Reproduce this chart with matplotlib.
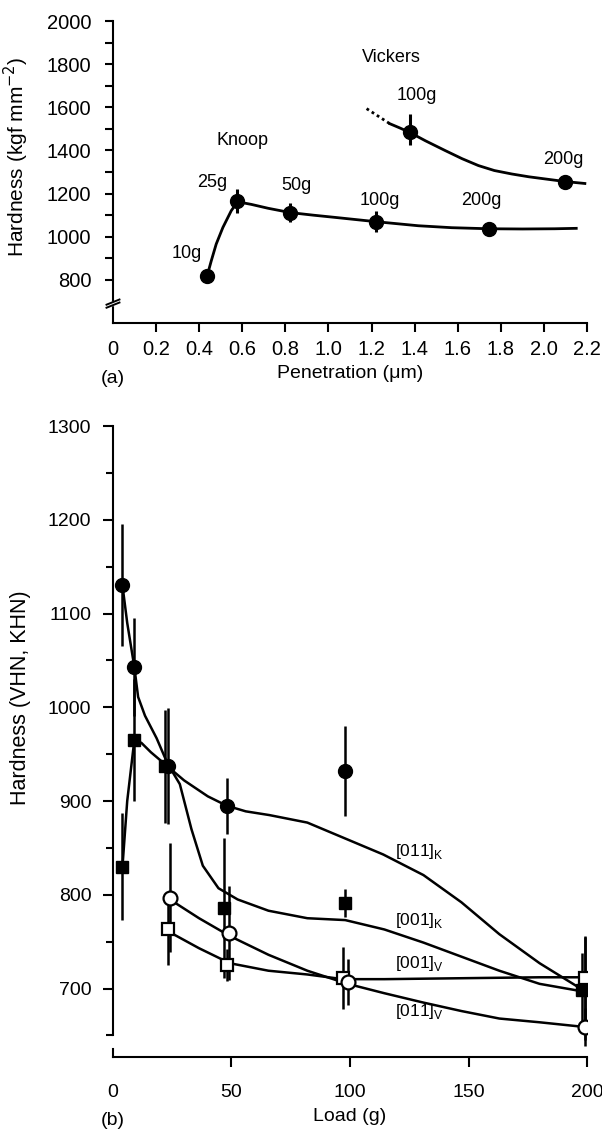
import matplotlib.pyplot as plt
import numpy as np

plt.rcParams['font.family'] = ['Liberation Sans', 'DejaVu Sans']

# ---------------- (a) Penetration data ----------------
knoop_x = [0.437, 0.577, 0.823, 1.219, 1.745]
knoop_y = [819, 1167, 1112, 1070, 1037]
knoop_err = [0, 55, 45, 50, 0]
knoop_loads = ['10g', '25g', '50g', '100g', '200g']

vick_x = [1.377, 2.098]
vick_y = [1484, 1256]
vick_err_lo = [60, 0]
vick_err_hi = [85, 0]
vick_loads = ['100g', '200g']

# fitted curves
knoop_fit_x = [0.437, 0.456, 0.479, 0.510, 0.549, 0.577, 0.60, 0.642, 0.72, 0.823,
               0.93, 1.028, 1.219, 1.417, 1.572, 1.745, 1.90, 2.05, 2.15]
knoop_fit_y = [819, 888, 966, 1043, 1121, 1160, 1158, 1150, 1132, 1112,
               1100, 1090, 1070, 1051, 1042, 1037, 1036, 1037, 1039]
vick_fit_x = [1.285, 1.33, 1.377, 1.45, 1.541, 1.62, 1.696, 1.77, 1.851, 1.93, 2.006, 2.098, 2.19]
vick_fit_y = [1524, 1505, 1484, 1445, 1400, 1362, 1330, 1307, 1291, 1278, 1268, 1256, 1247]
vick_dash_x = [1.177, 1.285]
vick_dash_y = [1594, 1524]

# ---------------- (b) Load data ----------------
k011_x = [4, 9, 23, 48, 98, 199]
k011_y = [1130, 1043, 937, 895, 932, 700]
k011_err = [65, 52, 62, 30, 48, 55]

k001_x = [4, 9, 22, 47, 98, 198]
k001_y = [830, 965, 937, 786, 791, 698]
k001_err = [57, 65, 60, 75, 15, 40]

v001_x = [23, 48, 97, 199]
v001_y = [763, 725, 711, 711]
v001_err = [38, 17, 33, 45]

v011_x = [24, 49, 99, 199]
v011_y = [797, 759, 707, 659]
v011_err = [58, 50, 25, 20]

# curves (labels as in figure)
cK011_x = [4, 6, 9, 12, 16, 23, 30, 40, 48, 56, 66, 82, 98, 114, 131, 147, 163, 180, 196, 200]
cK011_y = [830, 900, 965, 962, 952, 937, 922, 905, 895, 889, 885, 877, 860, 843, 821, 792, 758, 727, 702, 697]
cK001_x = [4, 6, 9, 10.6, 13.5, 18.4, 23, 28.2, 33.1, 37.9, 44.5, 52.6, 65.6, 82, 98, 114.5, 131, 147, 163, 180, 198]
cK001_y = [1130, 1090, 1043, 1011, 991, 967, 940, 918, 870, 831, 807, 795, 783, 775, 773, 763, 749, 734, 719, 705, 697]
cV001_x = [24, 36.3, 49.3, 65.6, 82, 97, 114.5, 147, 180, 199]
cV001_y = [760, 743, 727, 719, 715, 710, 710, 711, 712, 712]
cV011_x = [24, 36.3, 49.3, 65.6, 82, 99, 114.5, 131, 147, 163, 180, 199]
cV011_y = [795, 775, 756, 736, 719, 705, 695, 685, 676, 668, 664, 659]

fig = plt.figure(figsize=(6.02, 11.33), dpi=100)

# ======================= panel (a) =======================
ax1 = fig.add_axes([0.1877, 0.7149, 0.7874, 0.2665])
ax1.plot(knoop_fit_x, knoop_fit_y, color='black', lw=2.0, zorder=2)
ax1.plot(vick_fit_x, vick_fit_y, color='black', lw=2.0, zorder=2)
ax1.plot(vick_dash_x, vick_dash_y, color='black', lw=2.0, ls=(0, (1, 1.2)), zorder=2)
ax1.errorbar(knoop_x, knoop_y, yerr=knoop_err, fmt='o', color='black', ms=10,
             elinewidth=2.2, capsize=0, zorder=3)
ax1.errorbar(vick_x, vick_y, yerr=[vick_err_lo, vick_err_hi], fmt='o', color='black', ms=10,
             elinewidth=2.2, capsize=0, zorder=3)

knoop_lab_pos = [(0.34, 921), (0.46, 1251), (0.85, 1237), (1.24, 1167), (1.71, 1167)]
for lab, (tx, ty) in zip(knoop_loads, knoop_lab_pos):
    ax1.text(tx, ty, lab, ha='center', va='center', fontsize=13)
ax1.text(1.41, 1656, vick_loads[0], ha='center', va='center', fontsize=13)
ax1.text(2.09, 1358, vick_loads[1], ha='center', va='center', fontsize=13)
ax1.text(0.60, 1447, 'Knoop', ha='center', va='center', fontsize=13)
ax1.text(1.29, 1830, 'Vickers', ha='center', va='center', fontsize=13)

ax1.set_xlim(0, 2.2)
ax1.set_ylim(600, 2000)
ax1.set_xticks(np.arange(0, 2.21, 0.2))
ax1.set_xticklabels(['0', '0.2', '0.4', '0.6', '0.8', '1.0', '1.2', '1.4', '1.6', '1.8', '2.0', '2.2'])
ax1.set_yticks(np.arange(800, 2001, 200))
ax1.set_yticks(np.arange(800, 2001, 100), minor=True)
ax1.xaxis.get_major_ticks()[0].tick1line.set_visible(False)
ax1.tick_params(axis='both', which='both', direction='out', length=5.5, width=1.5,
                labelsize=14.5)
ax1.tick_params(axis='x', length=6.5, pad=6)
ax1.tick_params(axis='y', which='major', pad=10)
for s in ['top', 'right']:
    ax1.spines[s].set_visible(False)
for s in ['left', 'bottom']:
    ax1.spines[s].set_linewidth(1.5)
ax1.set_ylabel('Hardness (kgf mm$^{-2}$)', fontsize=15)
ax1.yaxis.set_label_coords(-0.172, 0.55)
ax1.set_xlabel('Penetration (\u03bcm)', fontsize=14, labelpad=4)
ax1.text(0.0, -0.185, '(a)', transform=ax1.transAxes, ha='center', va='center', fontsize=14)
# axis break marks
for yb in (683, 697):
    ax1.plot([-0.03, 0.03], [yb - 12, yb + 12], color='black', lw=1.4, clip_on=False, zorder=5)
ax1.plot([0, 0], [686, 694], color='white', lw=2.5, clip_on=False, zorder=4)

# ======================= panel (b) =======================
ax2 = fig.add_axes([0.1877, 0.0671, 0.7874, 0.5569])
for cx, cy in [(cK011_x, cK011_y), (cK001_x, cK001_y), (cV001_x, cV001_y), (cV011_x, cV011_y)]:
    ax2.plot(cx, cy, color='black', lw=1.8, zorder=2)

ax2.errorbar(k011_x, k011_y, yerr=k011_err, fmt='o', color='black', ms=10,
             elinewidth=1.8, capsize=0, zorder=3)
ax2.errorbar(k001_x, k001_y, yerr=k001_err, fmt='s', color='black', ms=9,
             elinewidth=1.8, capsize=0, zorder=3)
ax2.errorbar(v001_x, v001_y, yerr=v001_err, fmt='s', mfc='white', mec='black', mew=1.6,
             color='black', ms=9, elinewidth=1.8, capsize=0, zorder=4)
ax2.errorbar(v011_x, v011_y, yerr=v011_err, fmt='o', mfc='white', mec='black', mew=1.6,
             color='black', ms=10, elinewidth=1.8, capsize=0, zorder=4)

lab_x = 119
ax2.text(lab_x, 846, '[011]$_{\\mathregular{K}}$', ha='left', va='center', fontsize=12.5)
ax2.text(lab_x, 773, '[001]$_{\\mathregular{K}}$', ha='left', va='center', fontsize=12.5)
ax2.text(lab_x, 727, '[001]$_{\\mathregular{V}}$', ha='left', va='center', fontsize=12.5)
ax2.text(lab_x, 676, '[011]$_{\\mathregular{V}}$', ha='left', va='center', fontsize=12.5)

ax2.set_xlim(0, 200)
ax2.set_ylim(627, 1300)
ax2.set_xticks([0, 50, 100, 150, 200])
ax2.set_yticks(np.arange(700, 1301, 100))
ax2.set_yticks(np.arange(650, 1301, 50), minor=True)
ax2.xaxis.get_major_ticks()[0].tick1line.set_visible(False)
ax2.tick_params(axis='both', which='major', direction='out', length=7.5, width=1.5,
                labelsize=14)
ax2.tick_params(axis='y', which='minor', direction='out', length=5, width=1.5)
ax2.tick_params(axis='x', pad=12)
ax2.tick_params(axis='y', which='major', pad=8)
for s in ['top', 'right']:
    ax2.spines[s].set_visible(False)
for s in ['left', 'bottom']:
    ax2.spines[s].set_linewidth(1.5)
ax2.spines['left'].set_bounds(650, 1300)
ax2.plot([0, 0], [627, 635], color='black', lw=1.5, clip_on=False, zorder=5)
ax2.set_ylabel('Hardness (VHN, KHN)', fontsize=15.5)
ax2.yaxis.set_label_coords(-0.172, 0.57)
ax2.set_xlabel('Load (g)', fontsize=14, labelpad=5)
ax2.text(0.0, -0.101, '(b)', transform=ax2.transAxes, ha='center', va='center', fontsize=14)

fig.savefig('out.png', dpi=100)
